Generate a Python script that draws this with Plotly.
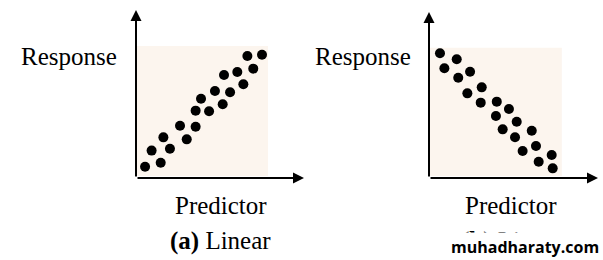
import plotly.graph_objects as go

# Panel (a): positive linear relationship
lin_pos_x = [0.54, 1.47, 0.93, 2.02, 1.63, 3.02, 2.62, 3.55, 3.55, 4.35,
             3.87, 5.16, 4.70, 5.60, 6.39, 5.24, 6.03, 6.98, 6.63, 7.50]
lin_pos_y = [0.67, 0.91, 1.63, 1.74, 2.42, 2.30, 3.11, 3.05, 4.01, 3.97,
             4.72, 4.39, 5.18, 5.10, 5.58, 6.13, 6.31, 6.51, 7.26, 7.34]

# Panel (b): negative linear relationship
lin_neg_x = [0.65, 1.64, 0.91, 1.73, 2.43, 3.12, 2.27, 3.06, 4.01, 4.73,
             3.96, 5.19, 4.36, 6.08, 5.09, 6.33, 5.54, 7.26, 6.49, 7.32]
lin_neg_y = [7.51, 7.15, 6.61, 6.04, 6.40, 5.46, 5.10, 4.54, 4.60, 4.16,
             3.73, 3.39, 2.93, 2.85, 2.45, 1.93, 1.63, 1.39, 0.98, 0.58]

y_label = "Response"
x_label = "Predictor"
captions = ["<b>(a)</b> Linear", "<b>(b)</b> Linear"]
watermark = "muhadharaty.com"

W, H = 603, 260
def px(x): return x / W
def py(y): return 1 - y / H

SERIF = "Liberation Serif"
DOT = "#000000"
SHADE = "#FCF5EE"

fig = go.Figure()
fig.add_trace(go.Scatter(x=lin_pos_x, y=lin_pos_y, mode="markers",
                         marker=dict(size=10, color=DOT), xaxis="x", yaxis="y",
                         showlegend=False, hoverinfo="skip"))
fig.add_trace(go.Scatter(x=lin_neg_x, y=lin_neg_y, mode="markers",
                         marker=dict(size=10, color=DOT), xaxis="x2", yaxis="y2",
                         showlegend=False, hoverinfo="skip"))

ax_common = dict(range=[0, 10], showgrid=False, zeroline=False, showline=False,
                 showticklabels=False, ticks="", fixedrange=True)
fig.update_layout(
    width=W, height=H,
    margin=dict(l=0, r=0, t=0, b=0),
    paper_bgcolor="white", plot_bgcolor="rgba(0,0,0,0)",
    xaxis=dict(domain=[px(136), px(304)], anchor="y", **ax_common),
    yaxis=dict(domain=[py(178), py(10)], anchor="x", **ax_common),
    xaxis2=dict(domain=[px(429), px(598)], anchor="y2", **ax_common),
    yaxis2=dict(domain=[py(178), py(12)], anchor="x2", **ax_common),
)

shapes = []
annotations = []
for xa, ya in (("x", "y"), ("x2", "y2")):
    shapes.append(dict(type="rect", xref=f"{xa} domain", yref=f"{ya} domain",
                       x0=0.006, x1=0.786, y0=0.012, y1=0.785,
                       fillcolor=SHADE, line=dict(width=0), layer="below"))
    # axes arrows
    for (hx, hy) in ((1, 0), (0, 1)):
        annotations.append(dict(xref=f"{xa} domain", yref=f"{ya} domain",
                                axref=f"{xa} domain", ayref=f"{ya} domain",
                                x=hx, y=hy, ax=0, ay=0, text="", showarrow=True,
                                arrowhead=2, arrowsize=1.1, arrowwidth=2,
                                arrowcolor="black", standoff=0, startstandoff=0))

txt_font = dict(family=SERIF, size=25, color="black")
for cx_resp, cx_pred in ((69, 221), (363, 511)):
    annotations.append(dict(xref="paper", yref="paper", x=px(cx_resp), y=py(56),
                            text=y_label, showarrow=False, font=txt_font,
                            xanchor="center", yanchor="middle"))
    annotations.append(dict(xref="paper", yref="paper", x=px(cx_pred), y=py(205),
                            text=x_label, showarrow=False, font=txt_font,
                            xanchor="center", yanchor="middle"))
annotations.append(dict(xref="paper", yref="paper", x=px(220), y=py(241),
                        text=captions[0], showarrow=False, font=txt_font,
                        xanchor="center", yanchor="middle"))
annotations.append(dict(xref="paper", yref="paper", x=px(512), y=py(241),
                        text=captions[1], showarrow=False, font=txt_font,
                        xanchor="center", yanchor="middle"))
annotations.append(dict(xref="paper", yref="paper", x=px(525), y=py(247),
                        text=f"<b>{watermark}</b>", showarrow=False,
                        font=dict(family="Open Sans", size=16, color="black"),
                        bgcolor="white", borderpad=3,
                        xanchor="center", yanchor="middle"))

fig.update_layout(shapes=shapes, annotations=annotations)
fig.write_html("out.html")
